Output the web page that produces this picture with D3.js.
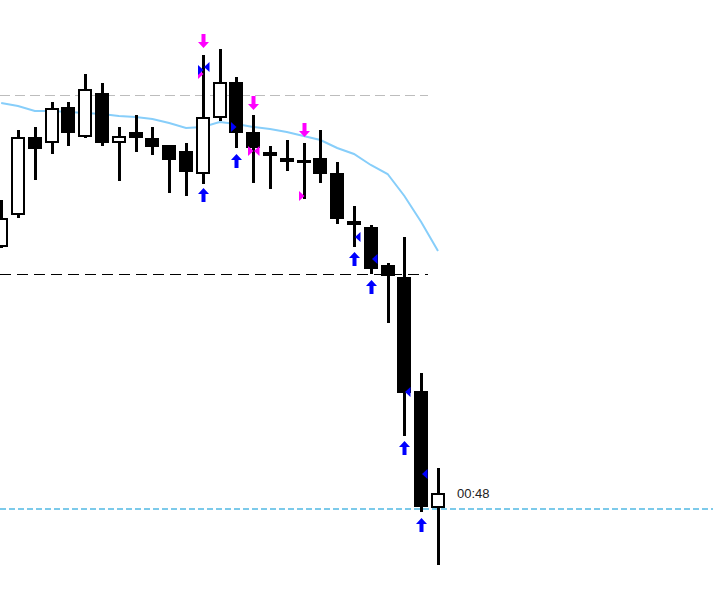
<!DOCTYPE html>
<html>
<head>
<meta charset="utf-8">
<script src="https://cdn.jsdelivr.net/npm/d3@7/dist/d3.min.js"></script>
<style>
  html, body { margin: 0; padding: 0; background: #fff; }
  svg { display: block; }
</style>
</head>
<body>
<div id="chart"></div>
<script>
// candles, oldest first (price in chart points)
const opens  = [353, 385, 463, 457, 493, 463, 507, 457, 468, 462, 455, 449, 426, 482, 518, 468, 448, 442, 439, 442, 427, 379, 373, 335, 323, 209, 92];
const highs  = [400, 470, 473, 498, 498, 526, 517, 473, 485, 473, 455, 457, 545, 551, 523, 485, 454, 460, 457, 470, 438, 394, 375, 337, 363, 227, 132];
const lows   = [352, 382, 420, 446, 454, 462, 454, 419, 448, 445, 407, 404, 416, 479, 452, 417, 411, 429, 401, 417, 376, 353, 326, 277, 164, 88, 35];
const closes = [382, 463, 451, 492, 467, 511, 457, 464, 462, 453, 440, 428, 483, 518, 467, 452, 444, 438, 438, 426, 381, 375, 331, 324, 207, 93, 107];
const maValues = [497, 494, 489, 489, 488, 487, 486, 484, 483, 481, 477, 472, 473, 478, 476, 473, 471, 468, 464, 460, 452, 446, 435, 426, 404, 378, 349];

// horizontal levels
const upperLevel = 505;
const lowerLevel = 326;
const bidLevel = 91;
const timerLabel = "00:48";

// signal arrows: candle index and tip price
const sellArrowIdx = [12, 15, 18];
const sellArrowTip = [552, 490, 463];
const buyArrowIdx = [12, 14, 21, 22, 24, 25];
const buyArrowTip = [412, 446, 348, 320, 159, 82];

// small markers: [candle index, price, colour, direction]
const markers = [
  [12, 526, "magenta", "right"],
  [12, 530, "blue", "right"],
  [12, 533, "blue", "left"],
  [14, 473, "blue", "right"],
  [15, 449, "magenta", "right"],
  [15, 449, "magenta", "left"],
  [18, 404, "magenta", "right"],
  [21, 363, "blue", "left"],
  [22, 341, "blue", "left"],
  [24, 208, "blue", "left"],
  [25, 126, "blue", "left"]
];

const W = 713, H = 602;
const colors = { blue: "#0000ff", magenta: "#ff00ff" };

const candles = opens.map((o, i) => ({ i, o, h: highs[i], l: lows[i], c: closes[i] }));

const svg = d3.select("#chart").append("svg")
  .attr("width", W)
  .attr("height", H);

const x = d3.scaleLinear().domain([0, 26]).range([1.2, 438]);
const y = d3.scaleLinear().domain([0, 600]).range([600, 0]);
const px = i => Math.round(x(i)) + 0.5; // snap to pixel centre

// level lines
svg.append("line")
  .attr("x1", 0).attr("x2", 428)
  .attr("y1", y(upperLevel) + 0.5).attr("y2", y(upperLevel) + 0.5)
  .attr("stroke", "#bdbdbd").attr("stroke-width", 1)
  .attr("stroke-dasharray", "10,5");

svg.append("line")
  .attr("x1", 0).attr("x2", 428)
  .attr("y1", y(lowerLevel) + 0.5).attr("y2", y(lowerLevel) + 0.5)
  .attr("stroke", "#000").attr("stroke-width", 1)
  .attr("stroke-dasharray", "11,6");

svg.append("line")
  .attr("x1", 0).attr("x2", W)
  .attr("y1", y(bidLevel)).attr("y2", y(bidLevel))
  .attr("stroke", "#7ccaea").attr("stroke-width", 2)
  .attr("stroke-dasharray", "6,3");

// moving average
svg.append("path")
  .datum(maValues)
  .attr("fill", "none")
  .attr("stroke", "#87cefa")
  .attr("stroke-width", 2)
  .attr("d", d3.line().x((d, i) => x(i)).y(d => y(d)));

// wicks
svg.selectAll(".wick")
  .data(candles)
  .enter().append("line")
  .attr("class", "wick")
  .attr("x1", d => px(d.i)).attr("x2", d => px(d.i))
  .attr("y1", d => y(d.h)).attr("y2", d => y(d.l))
  .attr("stroke", "#000").attr("stroke-width", 3);

// bodies
svg.selectAll(".body")
  .data(candles)
  .enter().append("rect")
  .attr("class", "body")
  .each(function(d) {
    const top = y(Math.max(d.o, d.c));
    const bot = y(Math.min(d.o, d.c));
    const r = d3.select(this);
    const cx = px(d.i);
    if (d.c > d.o) {
      r.attr("x", cx - 6.5).attr("width", 12)
       .attr("y", top + 1).attr("height", Math.max(bot - top - 2, 1))
       .attr("fill", "#fff").attr("stroke", "#000").attr("stroke-width", 2);
    } else {
      const hgt = Math.max(bot - top, 3);
      r.attr("x", cx - 7.5).attr("width", 14)
       .attr("y", Math.round((top + bot) / 2 - hgt / 2)).attr("height", hgt)
       .attr("fill", "#000");
    }
  });

// markers (triangles touching the wick)
svg.selectAll(".marker")
  .data(markers)
  .enter().append("path")
  .attr("class", "marker")
  .attr("fill", d => colors[d[2]])
  .attr("d", d => {
    const cx = px(d[0]), cy = y(d[1]);
    return d[3] === "right"
      ? `M${cx},${cy} L${cx - 5.5},${cy - 5} L${cx - 5.5},${cy + 5} Z`
      : `M${cx + 0.5},${cy} L${cx + 6},${cy - 5} L${cx + 6},${cy + 5} Z`;
  });

// arrows
function arrowPath(cx, tip, dir) {
  // dir = 1 points up (tip on top), -1 points down
  const s = dir;
  return `M${cx},${tip} L${cx + 5.5},${tip + 6 * s} L${cx + 2},${tip + 6 * s} L${cx + 2},${tip + 14 * s}` +
         ` L${cx - 2},${tip + 14 * s} L${cx - 2},${tip + 6 * s} L${cx - 5.5},${tip + 6 * s} Z`;
}

svg.selectAll(".sell")
  .data(sellArrowIdx)
  .enter().append("path")
  .attr("class", "sell")
  .attr("fill", colors.magenta)
  .attr("d", (d, k) => arrowPath(px(d), y(sellArrowTip[k]), -1));

svg.selectAll(".buy")
  .data(buyArrowIdx)
  .enter().append("path")
  .attr("class", "buy")
  .attr("fill", colors.blue)
  .attr("d", (d, k) => arrowPath(px(d), y(buyArrowTip[k]), 1));

// bar timer
svg.append("text")
  .attr("x", 457)
  .attr("y", 498)
  .style("font-family", "Arial, 'Liberation Sans', sans-serif")
  .style("font-size", "13px")
  .style("fill", "#222")
  .text(timerLabel);
</script>
</body>
</html>
